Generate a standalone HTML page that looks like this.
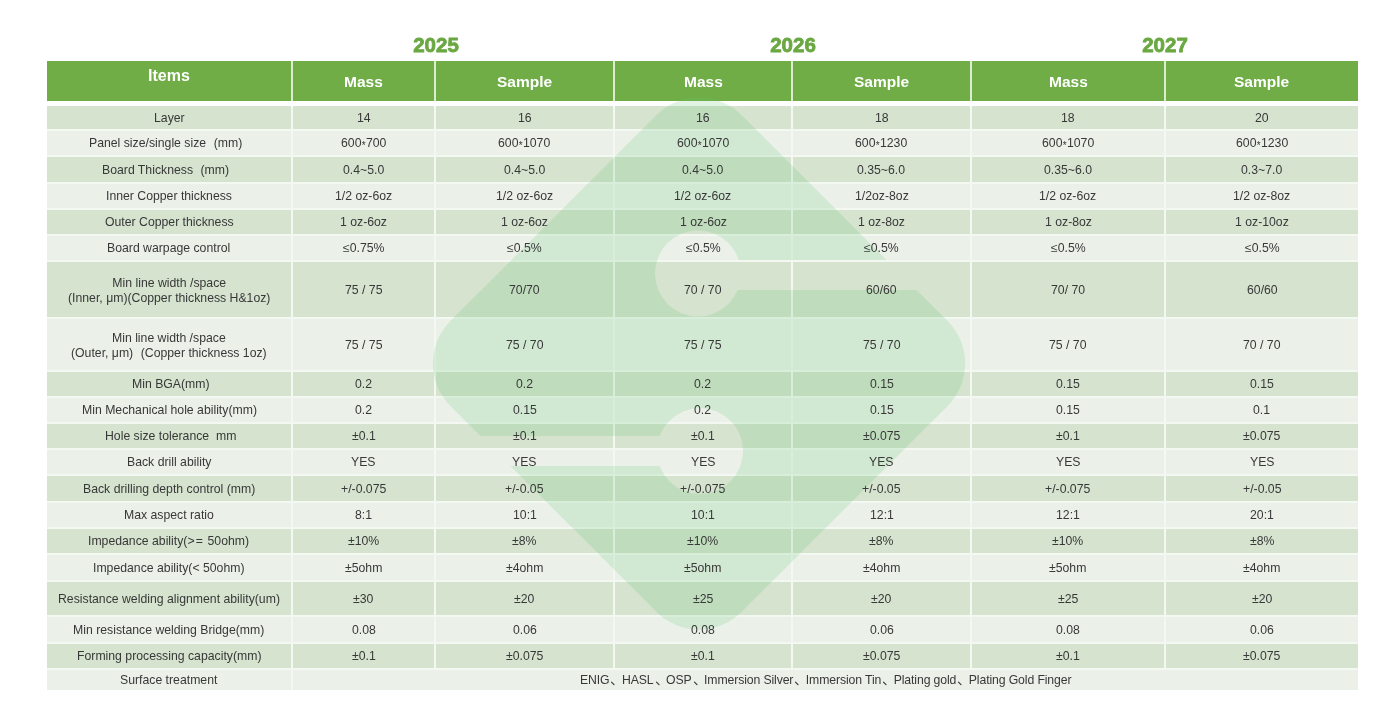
<!DOCTYPE html>
<html><head><meta charset="utf-8"><title>Roadmap</title>
<style>
html,body{margin:0;padding:0;background:#fff;}
body{width:1400px;height:728px;position:relative;overflow:hidden;font-family:"Liberation Sans",sans-serif;}
.c{position:absolute;display:flex;align-items:center;justify-content:center;text-align:center;color:#383838;font-size:12.25px;line-height:15.5px;white-space:nowrap;letter-spacing:0;box-sizing:border-box;padding-top:2px;}
.d{background:#d5e3cf}.l{background:#ebf1e9}
.h{position:absolute;background:#70ad47;color:#fff;font-weight:bold;font-size:15.5px;display:flex;align-items:center;justify-content:center;}
.y{position:absolute;color:#6aa842;font-weight:bold;font-size:20.5px;width:100px;text-align:center;line-height:24px;will-change:transform;-webkit-text-stroke:0.8px #6aa842;}
.t{position:relative;z-index:3;will-change:transform}
.fp{margin-left:7.5px}.fpr{margin-right:7.5px}
.tl{display:inline-block;line-height:14.5px}
.st{position:relative;top:1.5px;font-size:10px;line-height:0;margin:0 0.3px}
.dn{display:inline-block;width:12.5px;height:12px;vertical-align:-2px}
#wm{position:absolute;left:0;top:0;z-index:2}
</style></head><body>

<div style="position:absolute;left:47px;top:61px;width:1311px;height:40px;background:#dcebd2"></div>
<div style="position:absolute;left:47px;top:107px;width:1311px;height:583px;background:#f4f8f3"></div>
<div class="y" style="left:386px;top:33px">2025</div>
<div class="y" style="left:743px;top:33px">2026</div>
<div class="y" style="left:1115px;top:33px">2027</div>
<div class="h" style="left:47px;top:61px;width:244px;height:40px;padding-bottom:11px;box-sizing:border-box;font-size:16px;"><span class="t">Items</span></div>
<div class="h" style="left:293px;top:61px;width:141px;height:40px;padding-top:1.5px;box-sizing:border-box;"><span class="t">Mass</span></div>
<div class="h" style="left:436px;top:61px;width:177px;height:40px;padding-top:1.5px;box-sizing:border-box;"><span class="t">Sample</span></div>
<div class="h" style="left:615px;top:61px;width:176px;height:40px;padding-top:1.5px;box-sizing:border-box;"><span class="t">Mass</span></div>
<div class="h" style="left:793px;top:61px;width:177px;height:40px;padding-top:1.5px;box-sizing:border-box;"><span class="t">Sample</span></div>
<div class="h" style="left:972px;top:61px;width:192px;height:40px;padding-top:1.5px;box-sizing:border-box;"><span class="t">Mass</span></div>
<div class="h" style="left:1166px;top:61px;width:192px;height:40px;padding-top:1.5px;box-sizing:border-box;"><span class="t">Sample</span></div>
<div class="c d" style="left:47px;top:106px;width:244px;height:23px"><span class="t">Layer</span></div>
<div class="c d" style="left:293px;top:106px;width:141px;height:23px"><span class="t">14</span></div>
<div class="c d" style="left:436px;top:106px;width:177px;height:23px"><span class="t">16</span></div>
<div class="c d" style="left:615px;top:106px;width:176px;height:23px"><span class="t">16</span></div>
<div class="c d" style="left:793px;top:106px;width:177px;height:23px"><span class="t">18</span></div>
<div class="c d" style="left:972px;top:106px;width:192px;height:23px"><span class="t">18</span></div>
<div class="c d" style="left:1166px;top:106px;width:192px;height:23px"><span class="t">20</span></div>
<div class="c l" style="left:47px;top:131px;width:244px;height:24px"><span class="t">Panel size/single size<span class='fp'>(</span>mm<span class='fpr'>)</span></span></div>
<div class="c l" style="left:293px;top:131px;width:141px;height:24px"><span class="t">600<span class=st>*</span>700</span></div>
<div class="c l" style="left:436px;top:131px;width:177px;height:24px"><span class="t">600<span class=st>*</span>1070</span></div>
<div class="c l" style="left:615px;top:131px;width:176px;height:24px"><span class="t">600<span class=st>*</span>1070</span></div>
<div class="c l" style="left:793px;top:131px;width:177px;height:24px"><span class="t">600<span class=st>*</span>1230</span></div>
<div class="c l" style="left:972px;top:131px;width:192px;height:24px"><span class="t">600<span class=st>*</span>1070</span></div>
<div class="c l" style="left:1166px;top:131px;width:192px;height:24px"><span class="t">600<span class=st>*</span>1230</span></div>
<div class="c d" style="left:47px;top:157px;width:244px;height:25px"><span class="t">Board Thickness<span class='fp'>(</span>mm<span class='fpr'>)</span></span></div>
<div class="c d" style="left:293px;top:157px;width:141px;height:25px"><span class="t">0.4~5.0</span></div>
<div class="c d" style="left:436px;top:157px;width:177px;height:25px"><span class="t">0.4~5.0</span></div>
<div class="c d" style="left:615px;top:157px;width:176px;height:25px"><span class="t">0.4~5.0</span></div>
<div class="c d" style="left:793px;top:157px;width:177px;height:25px"><span class="t">0.35~6.0</span></div>
<div class="c d" style="left:972px;top:157px;width:192px;height:25px"><span class="t">0.35~6.0</span></div>
<div class="c d" style="left:1166px;top:157px;width:192px;height:25px"><span class="t">0.3~7.0</span></div>
<div class="c l" style="left:47px;top:184px;width:244px;height:24px"><span class="t">Inner Copper thickness</span></div>
<div class="c l" style="left:293px;top:184px;width:141px;height:24px"><span class="t">1/2 oz-6oz</span></div>
<div class="c l" style="left:436px;top:184px;width:177px;height:24px"><span class="t">1/2 oz-6oz</span></div>
<div class="c l" style="left:615px;top:184px;width:176px;height:24px"><span class="t">1/2 oz-6oz</span></div>
<div class="c l" style="left:793px;top:184px;width:177px;height:24px"><span class="t">1/2oz-8oz</span></div>
<div class="c l" style="left:972px;top:184px;width:192px;height:24px"><span class="t">1/2 oz-6oz</span></div>
<div class="c l" style="left:1166px;top:184px;width:192px;height:24px"><span class="t">1/2 oz-8oz</span></div>
<div class="c d" style="left:47px;top:210px;width:244px;height:24px"><span class="t">Outer Copper thickness</span></div>
<div class="c d" style="left:293px;top:210px;width:141px;height:24px"><span class="t">1 oz-6oz</span></div>
<div class="c d" style="left:436px;top:210px;width:177px;height:24px"><span class="t">1 oz-6oz</span></div>
<div class="c d" style="left:615px;top:210px;width:176px;height:24px"><span class="t">1 oz-6oz</span></div>
<div class="c d" style="left:793px;top:210px;width:177px;height:24px"><span class="t">1 oz-8oz</span></div>
<div class="c d" style="left:972px;top:210px;width:192px;height:24px"><span class="t">1 oz-8oz</span></div>
<div class="c d" style="left:1166px;top:210px;width:192px;height:24px"><span class="t">1 oz-10oz</span></div>
<div class="c l" style="left:47px;top:236px;width:244px;height:24px"><span class="t">Board warpage control</span></div>
<div class="c l" style="left:293px;top:236px;width:141px;height:24px"><span class="t">≤0.75%</span></div>
<div class="c l" style="left:436px;top:236px;width:177px;height:24px"><span class="t">≤0.5%</span></div>
<div class="c l" style="left:615px;top:236px;width:176px;height:24px"><span class="t">≤0.5%</span></div>
<div class="c l" style="left:793px;top:236px;width:177px;height:24px"><span class="t">≤0.5%</span></div>
<div class="c l" style="left:972px;top:236px;width:192px;height:24px"><span class="t">≤0.5%</span></div>
<div class="c l" style="left:1166px;top:236px;width:192px;height:24px"><span class="t">≤0.5%</span></div>
<div class="c d" style="left:47px;top:262px;width:244px;height:55px"><span class="t"><span class=tl>Min line width /space<br>(Inner, μm)(Copper thickness H&amp;1oz)</span></span></div>
<div class="c d" style="left:293px;top:262px;width:141px;height:55px"><span class="t">75 / 75</span></div>
<div class="c d" style="left:436px;top:262px;width:177px;height:55px"><span class="t">70/70</span></div>
<div class="c d" style="left:615px;top:262px;width:176px;height:55px"><span class="t">70 / 70</span></div>
<div class="c d" style="left:793px;top:262px;width:177px;height:55px"><span class="t">60/60</span></div>
<div class="c d" style="left:972px;top:262px;width:192px;height:55px"><span class="t">70/ 70</span></div>
<div class="c d" style="left:1166px;top:262px;width:192px;height:55px"><span class="t">60/60</span></div>
<div class="c l" style="left:47px;top:319px;width:244px;height:51px"><span class="t"><span class=tl>Min line width /space<br>(Outer, μm)<span class='fp'>(</span>Copper thickness 1oz)</span></span></div>
<div class="c l" style="left:293px;top:319px;width:141px;height:51px"><span class="t">75 / 75</span></div>
<div class="c l" style="left:436px;top:319px;width:177px;height:51px"><span class="t">75 / 70</span></div>
<div class="c l" style="left:615px;top:319px;width:176px;height:51px"><span class="t">75 / 75</span></div>
<div class="c l" style="left:793px;top:319px;width:177px;height:51px"><span class="t">75 / 70</span></div>
<div class="c l" style="left:972px;top:319px;width:192px;height:51px"><span class="t">75 / 70</span></div>
<div class="c l" style="left:1166px;top:319px;width:192px;height:51px"><span class="t">70 / 70</span></div>
<div class="c d" style="left:47px;top:372px;width:244px;height:24px"><span class="t"><span style='padding-left:4px'>Min BGA(mm)</span></span></div>
<div class="c d" style="left:293px;top:372px;width:141px;height:24px"><span class="t">0.2</span></div>
<div class="c d" style="left:436px;top:372px;width:177px;height:24px"><span class="t">0.2</span></div>
<div class="c d" style="left:615px;top:372px;width:176px;height:24px"><span class="t">0.2</span></div>
<div class="c d" style="left:793px;top:372px;width:177px;height:24px"><span class="t">0.15</span></div>
<div class="c d" style="left:972px;top:372px;width:192px;height:24px"><span class="t">0.15</span></div>
<div class="c d" style="left:1166px;top:372px;width:192px;height:24px"><span class="t">0.15</span></div>
<div class="c l" style="left:47px;top:398px;width:244px;height:24px"><span class="t">Min Mechanical hole ability(mm)</span></div>
<div class="c l" style="left:293px;top:398px;width:141px;height:24px"><span class="t">0.2</span></div>
<div class="c l" style="left:436px;top:398px;width:177px;height:24px"><span class="t">0.15</span></div>
<div class="c l" style="left:615px;top:398px;width:176px;height:24px"><span class="t">0.2</span></div>
<div class="c l" style="left:793px;top:398px;width:177px;height:24px"><span class="t">0.15</span></div>
<div class="c l" style="left:972px;top:398px;width:192px;height:24px"><span class="t">0.15</span></div>
<div class="c l" style="left:1166px;top:398px;width:192px;height:24px"><span class="t">0.1</span></div>
<div class="c d" style="left:47px;top:424px;width:244px;height:24px"><span class="t"><span style='padding-left:3px'>Hole size tolerance&nbsp; mm</span></span></div>
<div class="c d" style="left:293px;top:424px;width:141px;height:24px"><span class="t">±0.1</span></div>
<div class="c d" style="left:436px;top:424px;width:177px;height:24px"><span class="t">±0.1</span></div>
<div class="c d" style="left:615px;top:424px;width:176px;height:24px"><span class="t">±0.1</span></div>
<div class="c d" style="left:793px;top:424px;width:177px;height:24px"><span class="t">±0.075</span></div>
<div class="c d" style="left:972px;top:424px;width:192px;height:24px"><span class="t">±0.1</span></div>
<div class="c d" style="left:1166px;top:424px;width:192px;height:24px"><span class="t">±0.075</span></div>
<div class="c l" style="left:47px;top:450px;width:244px;height:24px"><span class="t">Back drill ability</span></div>
<div class="c l" style="left:293px;top:450px;width:141px;height:24px"><span class="t">YES</span></div>
<div class="c l" style="left:436px;top:450px;width:177px;height:24px"><span class="t">YES</span></div>
<div class="c l" style="left:615px;top:450px;width:176px;height:24px"><span class="t">YES</span></div>
<div class="c l" style="left:793px;top:450px;width:177px;height:24px"><span class="t">YES</span></div>
<div class="c l" style="left:972px;top:450px;width:192px;height:24px"><span class="t">YES</span></div>
<div class="c l" style="left:1166px;top:450px;width:192px;height:24px"><span class="t">YES</span></div>
<div class="c d" style="left:47px;top:476px;width:244px;height:25px"><span class="t">Back drilling depth control (mm)</span></div>
<div class="c d" style="left:293px;top:476px;width:141px;height:25px"><span class="t">+/-0.075</span></div>
<div class="c d" style="left:436px;top:476px;width:177px;height:25px"><span class="t">+/-0.05</span></div>
<div class="c d" style="left:615px;top:476px;width:176px;height:25px"><span class="t">+/-0.075</span></div>
<div class="c d" style="left:793px;top:476px;width:177px;height:25px"><span class="t">+/-0.05</span></div>
<div class="c d" style="left:972px;top:476px;width:192px;height:25px"><span class="t">+/-0.075</span></div>
<div class="c d" style="left:1166px;top:476px;width:192px;height:25px"><span class="t">+/-0.05</span></div>
<div class="c l" style="left:47px;top:503px;width:244px;height:24px"><span class="t">Max aspect ratio</span></div>
<div class="c l" style="left:293px;top:503px;width:141px;height:24px"><span class="t">8:1</span></div>
<div class="c l" style="left:436px;top:503px;width:177px;height:24px"><span class="t">10:1</span></div>
<div class="c l" style="left:615px;top:503px;width:176px;height:24px"><span class="t">10:1</span></div>
<div class="c l" style="left:793px;top:503px;width:177px;height:24px"><span class="t">12:1</span></div>
<div class="c l" style="left:972px;top:503px;width:192px;height:24px"><span class="t">12:1</span></div>
<div class="c l" style="left:1166px;top:503px;width:192px;height:24px"><span class="t">20:1</span></div>
<div class="c d" style="left:47px;top:529px;width:244px;height:24px"><span class="t">Impedance ability(<span style='letter-spacing:1.2px'>&gt;=</span> 50ohm)</span></div>
<div class="c d" style="left:293px;top:529px;width:141px;height:24px"><span class="t">±10%</span></div>
<div class="c d" style="left:436px;top:529px;width:177px;height:24px"><span class="t">±8%</span></div>
<div class="c d" style="left:615px;top:529px;width:176px;height:24px"><span class="t">±10%</span></div>
<div class="c d" style="left:793px;top:529px;width:177px;height:24px"><span class="t">±8%</span></div>
<div class="c d" style="left:972px;top:529px;width:192px;height:24px"><span class="t">±10%</span></div>
<div class="c d" style="left:1166px;top:529px;width:192px;height:24px"><span class="t">±8%</span></div>
<div class="c l" style="left:47px;top:555px;width:244px;height:25px"><span class="t">Impedance ability(&lt; 50ohm)</span></div>
<div class="c l" style="left:293px;top:555px;width:141px;height:25px"><span class="t">±5ohm</span></div>
<div class="c l" style="left:436px;top:555px;width:177px;height:25px"><span class="t">±4ohm</span></div>
<div class="c l" style="left:615px;top:555px;width:176px;height:25px"><span class="t">±5ohm</span></div>
<div class="c l" style="left:793px;top:555px;width:177px;height:25px"><span class="t">±4ohm</span></div>
<div class="c l" style="left:972px;top:555px;width:192px;height:25px"><span class="t">±5ohm</span></div>
<div class="c l" style="left:1166px;top:555px;width:192px;height:25px"><span class="t">±4ohm</span></div>
<div class="c d" style="left:47px;top:582px;width:244px;height:33px"><span class="t">Resistance welding alignment ability(um)</span></div>
<div class="c d" style="left:293px;top:582px;width:141px;height:33px"><span class="t">±30</span></div>
<div class="c d" style="left:436px;top:582px;width:177px;height:33px"><span class="t">±20</span></div>
<div class="c d" style="left:615px;top:582px;width:176px;height:33px"><span class="t">±25</span></div>
<div class="c d" style="left:793px;top:582px;width:177px;height:33px"><span class="t">±20</span></div>
<div class="c d" style="left:972px;top:582px;width:192px;height:33px"><span class="t">±25</span></div>
<div class="c d" style="left:1166px;top:582px;width:192px;height:33px"><span class="t">±20</span></div>
<div class="c l" style="left:47px;top:617px;width:244px;height:25px"><span class="t">Min resistance welding Bridge(mm)</span></div>
<div class="c l" style="left:293px;top:617px;width:141px;height:25px"><span class="t">0.08</span></div>
<div class="c l" style="left:436px;top:617px;width:177px;height:25px"><span class="t">0.06</span></div>
<div class="c l" style="left:615px;top:617px;width:176px;height:25px"><span class="t">0.08</span></div>
<div class="c l" style="left:793px;top:617px;width:177px;height:25px"><span class="t">0.06</span></div>
<div class="c l" style="left:972px;top:617px;width:192px;height:25px"><span class="t">0.08</span></div>
<div class="c l" style="left:1166px;top:617px;width:192px;height:25px"><span class="t">0.06</span></div>
<div class="c d" style="left:47px;top:644px;width:244px;height:24px"><span class="t">Forming processing capacity(mm)</span></div>
<div class="c d" style="left:293px;top:644px;width:141px;height:24px"><span class="t">±0.1</span></div>
<div class="c d" style="left:436px;top:644px;width:177px;height:24px"><span class="t">±0.075</span></div>
<div class="c d" style="left:615px;top:644px;width:176px;height:24px"><span class="t">±0.1</span></div>
<div class="c d" style="left:793px;top:644px;width:177px;height:24px"><span class="t">±0.075</span></div>
<div class="c d" style="left:972px;top:644px;width:192px;height:24px"><span class="t">±0.1</span></div>
<div class="c d" style="left:1166px;top:644px;width:192px;height:24px"><span class="t">±0.075</span></div>
<div class="c l" style="left:47px;top:670px;width:244px;height:20px"><span class="t">Surface treatment</span></div>
<div class="c l" style="left:293px;top:670px;width:1065px;height:20px"><span class="t" style="letter-spacing:-0.12px">ENIG<svg class="dn" viewBox="0 0 12.5 12"><path d="M2.5 8.1 L5.0 10.6" stroke="#383838" stroke-width="1.15" stroke-linecap="round" fill="none"/></svg>HASL<svg class="dn" viewBox="0 0 12.5 12"><path d="M2.5 8.1 L5.0 10.6" stroke="#383838" stroke-width="1.15" stroke-linecap="round" fill="none"/></svg>OSP<svg class="dn" viewBox="0 0 12.5 12"><path d="M2.5 8.1 L5.0 10.6" stroke="#383838" stroke-width="1.15" stroke-linecap="round" fill="none"/></svg>Immersion Silver<svg class="dn" viewBox="0 0 12.5 12"><path d="M2.5 8.1 L5.0 10.6" stroke="#383838" stroke-width="1.15" stroke-linecap="round" fill="none"/></svg>Immersion Tin<svg class="dn" viewBox="0 0 12.5 12"><path d="M2.5 8.1 L5.0 10.6" stroke="#383838" stroke-width="1.15" stroke-linecap="round" fill="none"/></svg>Plating gold<svg class="dn" viewBox="0 0 12.5 12"><path d="M2.5 8.1 L5.0 10.6" stroke="#383838" stroke-width="1.15" stroke-linecap="round" fill="none"/></svg>Plating Gold Finger</span></div>
<svg id="wm" width="1400" height="728" viewBox="0 0 1400 728">
<defs><mask id="m" maskUnits="userSpaceOnUse" x="0" y="0" width="1400" height="728">
<rect x="-205.75" y="-205.75" width="411.5" height="411.5" rx="60" ry="60" fill="#fff" transform="translate(699 363.5) rotate(45)"/>
<circle cx="698" cy="273.5" r="43" fill="#000"/><rect x="698" y="260" width="400" height="30" fill="#000"/>
<circle cx="700" cy="451" r="43" fill="#000"/><rect x="300" y="436" width="400" height="30" fill="#000"/>
</mask></defs>
<rect x="380" y="60" width="640" height="620" fill="rgb(105,200,118)" fill-opacity="0.2" mask="url(#m)"/>
</svg>

</body></html>
